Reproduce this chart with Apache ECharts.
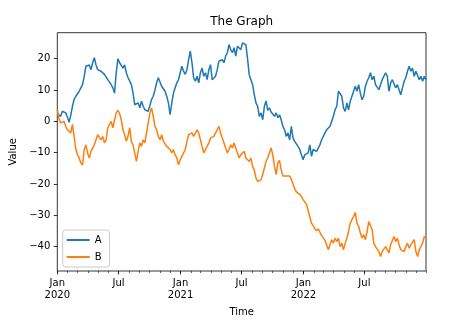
<!DOCTYPE html>
<html><head><meta charset="utf-8">
<script src="https://cdn.jsdelivr.net/npm/echarts@6/dist/echarts.min.js"></script>
<style>html,body{margin:0;padding:0;background:#fff}#c{width:449px;height:327px}</style>
</head><body><div id="c"></div>
<script>
const titleText = 'The Graph';
const xName = 'Time';
const yName = 'Value';
const startDate = '2020-01-01';
const endDate = '2022-12-31';
const stepDays = 5;
const seriesNames = ['A', 'B'];
const valuesA = [
  2.5,2.2,1.6,3.2,3.7,2.7,1.4,-0.3,2,4.8,7,8,8.5,9.6,10.7,11.7,14.4,17.6,17,18,16.5,18.7,20.3,18,16.5,17,16,15.5,15,14.4,13.3,13.9,11.7,10.7,9,15.5,20,18.7,19,17,18,15.5,14,14.4,11.7,9,5.3,4.8,5.9,4.3,6.4,4.8,3.7,4.3,3.2,3.7,
  7,8,10,12.3,13.9,13.3,11.2,11.7,9.6,8,5.9,2.1,5.9,9,10.7,12.3,13.3,15.5,17.6,16,15,16.5,19.7,22.4,18.7,13.9,12.8,14.4,12.3,15.5,17,14.4,15.5,13.3,16.5,18.1,13.3,12.8,14.4,16.5,19.2,18.7,19.7,18.7,20.8,21.9,24.5,22.9,21.9,23.5,20.8,24,24.5,22.9,25,24.5,
  24.5,20,14.9,14.4,11.7,8.5,5.9,4.8,1.6,2.7,0.5,4.8,6.5,3.5,4.3,3,3.2,1.6,2.7,1.1,2.1,0.5,-1.6,-2.7,-4.8,-3.7,-5.9,-1.6,-5.3,-6.4,-6.9,-8,-9,-10.7,-12.3,-10.7,-11.2,-10.1,-7.5,-11.2,-9,-8.5,-9.6,-10.1,-7.5,-5.9,-4.8,-3.7,-2.7,-3.2,-1.6,0,1.6,3.7,4.8,
  9.6,10.1,8,4.3,3.2,5.9,3.7,6.4,8,9.6,11.2,9.6,11.7,9,6.9,8,11.2,12.8,13.9,15.5,13.3,14.4,11.7,11.2,10.1,10.7,13.3,12.8,15.5,14.4,9.6,12.3,13.3,13.9,10.7,11.7,10.1,8.5,10.7,12.8,13.9,16,17.6,16,17,14.4,16,15.5,13.3,14.4,12.8,14.4,13.3
];
const valuesB = [
  3.7,1,-0.5,-1,0,-1.6,-2.7,-2.1,-3.7,-1,-4.8,-9,-10.7,-11.7,-13.3,-14,-9,-7.5,-10.1,-11.7,-9.6,-10.1,-7.5,-5.9,-4.3,-4.8,-5.9,-4.8,-6.9,-5.9,-2.1,-1.6,0,-2.1,0.5,2.7,3.5,2.5,0.5,-2.7,-4.3,-6.4,-4.8,-2,-6.4,-7.5,-8,-12.8,-9.6,-6.9,-8,-5.9,-6.9,-3.7,-0.5,2.7,
  4.3,1.6,-1.6,-2.7,-4.8,-5.9,-4.3,-6.4,-6.9,-8,-7.5,-9,-10.1,-9,-10.7,-11.7,-13.9,-12.3,-11.2,-10.7,-9,-6.4,-4.3,-4.8,-3.7,-4.8,-4.3,-2.7,-3.7,-5.9,-8,-10.1,-9.6,-8,-6.9,-5.3,-5.9,-4.8,-3.7,-2.7,-1.6,-3.7,-5.3,-6.9,-8.5,-10.1,-9,-7.5,-8.5,-6.9,-8.5,-10.1,-11.7,-10.7,-10.1,-9.6,
  -11.7,-11.2,-12.8,-11.7,-14.4,-15.5,-18.1,-19.2,-19.7,-18.7,-17,-14.9,-12.8,-11.7,-10.1,-8.5,-10.7,-14.4,-17,-13.3,-12.5,-15.5,-17.5,-17.5,-17.5,-17.8,-17.5,-18.5,-18.5,-21.5,-22.5,-22.5,-23.3,-24,-25,-24.5,-26.5,-28.5,-30.5,-32.5,-33.3,-34.3,-35,-34.3,-34.8,-36.5,-37,-38,-39.5,-41,-39.4,-37.8,-38.9,-37.3,-38.4,
  -37.3,-40,-38.9,-41,-38.9,-37.3,-35.2,-32.5,-31.4,-30.4,-29.1,-32.5,-33.6,-35.7,-37.3,-36.2,-37.8,-35.2,-32,-31.4,-34.6,-38.9,-40,-40.5,-41.6,-43.2,-41.6,-41,-40,-40.5,-42,-39.4,-38.9,-36.8,-38.4,-37.3,-39.4,-41,-40.5,-41.6,-40,-38.9,-40.5,-39.4,-38.9,-37.8,-41.6,-43.2,-41,-40,-38.9,-36.8,-37.3
];
const yTicks = [-40, -30, -20, -10, 0, 10, 20];
const yMin = -47.8, yMax = 28.3;
const xTickDates = ['2020-01-01','2020-07-01','2021-01-01','2021-07-01','2022-01-01','2022-07-01'];
const xTickLabels = ['Jan\n2020','Jul','Jan\n2021','Jul','Jan\n2022','Jul'];
const colors = ['#1f77b4', '#ff7f0e'];

function dayIndex(s) {
  const p = s.split('-').map(Number);
  const b = startDate.split('-').map(Number);
  return Math.round((Date.UTC(p[0], p[1]-1, p[2]) - Date.UTC(b[0], b[1]-1, b[2])) / 86400000);
}
const xMin = 0, xMax = dayIndex(endDate);
const majorX = xTickDates.map(dayIndex);
const minorX = [];
for (let y = 2020; y <= 2022; y++) for (let m = 1; m <= 12; m++) {
  minorX.push(dayIndex(y + '-' + String(m).padStart(2,'0') + '-01'));
}
minorX.push(xMax);
function toPairs(vals) { return vals.map((v, i) => [i * stepDays, v]); }

const font = 'DejaVu Sans';
const chart = echarts.init(document.getElementById('c'), null, {renderer: 'canvas'});
chart.setOption({
  animation: false,
  backgroundColor: '#fff',
  title: {
    text: titleText, left: 241.7, top: 16, textAlign: 'center', padding: 0,
    textStyle: {fontFamily: font, fontSize: 12, fontWeight: 'normal', color: '#000'}
  },
  legend: {
    orient: 'vertical', left: 62.7, top: 230,
    padding: [4, 8, 4, 4], itemGap: 5,
    itemWidth: 23, itemHeight: 2, icon: 'rect',
    backgroundColor: 'rgba(255,255,255,0.8)', borderColor: '#cccccc', borderWidth: 1, borderRadius: 3,
    textStyle: {fontFamily: font, fontSize: 10, color: '#000', lineHeight: 12},
    data: seriesNames
  },
  grid: {left: 57.3, right: 23, top: 32.7, bottom: 56, show: true, borderColor: '#000', borderWidth: 0.8, backgroundColor: 'transparent'},
  xAxis: [{
    type: 'value', min: xMin, max: xMax, position: 'bottom',
    name: xName, nameLocation: 'middle', nameGap: 36,
    nameTextStyle: {fontFamily: font, fontSize: 10, color: '#000'},
    axisLine: {show: false, onZero: false}, splitLine: {show: false},
    axisTick: {show: true, length: 3.5, lineStyle: {color: '#000', width: 0.8}, customValues: majorX},
    axisLabel: {
      customValues: majorX, margin: 6, fontFamily: font, fontSize: 10, color: '#000', lineHeight: 12,
      formatter: v => { const i = majorX.indexOf(v); return i >= 0 ? xTickLabels[i] : ''; }
    }
  }, {
    type: 'value', min: xMin, max: xMax, position: 'bottom',
    axisLine: {show: false, onZero: false}, splitLine: {show: false},
    axisTick: {show: true, length: 2, lineStyle: {color: '#000', width: 0.6}, customValues: minorX},
    axisLabel: {show: false}
  }],
  yAxis: {
    type: 'value', min: yMin, max: yMax,
    name: yName, nameLocation: 'middle', nameGap: 36,
    nameTextStyle: {fontFamily: font, fontSize: 10, color: '#000'},
    axisLine: {show: false, onZero: false}, splitLine: {show: false},
    axisTick: {show: true, length: 3.5, lineStyle: {color: '#000', width: 0.8}, customValues: yTicks},
    axisLabel: {
      customValues: yTicks, margin: 7, fontFamily: font, fontSize: 10, color: '#000',
      formatter: v => (v < 0 ? '\u2212' + Math.abs(v) : String(v))
    }
  },
  series: [
    {name: seriesNames[0], type: 'line', data: toPairs(valuesA), showSymbol: false, symbol: 'none',
     lineStyle: {color: colors[0], width: 1.5}, itemStyle: {color: colors[0]}},
    {name: seriesNames[1], type: 'line', data: toPairs(valuesB), showSymbol: false, symbol: 'none',
     lineStyle: {color: colors[1], width: 1.5}, itemStyle: {color: colors[1]}}
  ]
});
</script>
</body></html>
